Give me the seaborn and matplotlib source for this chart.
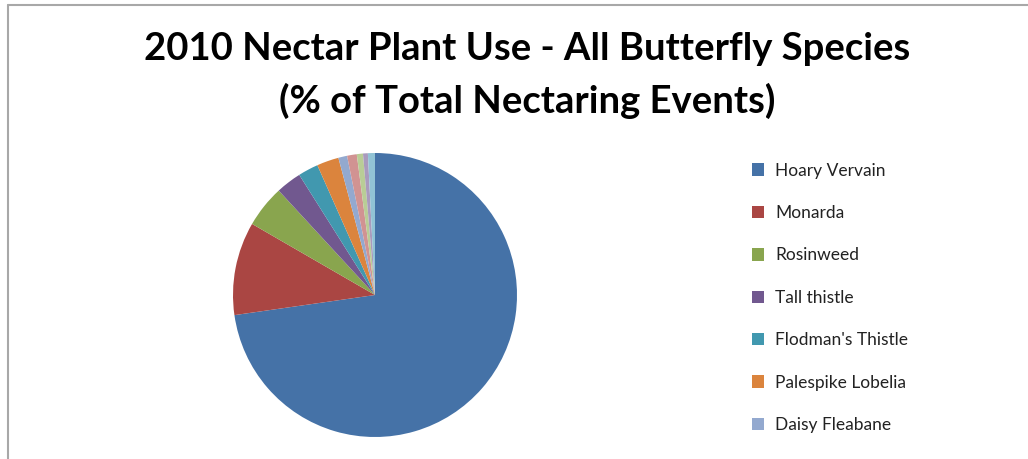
import matplotlib
matplotlib.use("Agg")
import matplotlib.pyplot as plt
import seaborn as sns
from matplotlib.lines import Line2D

# nectar plants, share of total nectaring events (%)
plants = ["Hoary Vervain", "Monarda", "Rosinweed", "Tall thistle",
          "Flodman's Thistle", "Palespike Lobelia", "Daisy Fleabane",
          "Plant 8", "Plant 9", "Plant 10", "Plant 11"]
share = [72.7, 10.6, 4.8, 2.9, 2.3, 2.5, 1.0, 1.1, 0.7, 0.55, 0.8]
legend_count = 7

colors = ["#4572A7", "#AA4643", "#89A54E", "#71588F", "#4198AF", "#DB843D",
          "#93A9CF", "#D19392", "#B9CD96", "#A99BBD", "#91C3D5"]

sns.set_theme(style="white")
plt.rcParams['font.family'] = ['Lato', 'DejaVu Sans']

fig = plt.figure(figsize=(10.28, 4.59), dpi=100)
fig.patch.set_facecolor("white")

# pie area (square in pixels)
ax = fig.add_axes([233 / 1028, 22 / 459, 284 / 1028, 284 / 459])
wedges, _ = ax.pie(share, colors=sns.color_palette(colors), startangle=90,
                   counterclock=False, radius=1,
                   wedgeprops=dict(linewidth=0))
ax.set_xlim(-1, 1)
ax.set_ylim(-1, 1)
ax.axis("off")

fig.text(527 / 1028, 1 - 49 / 459, "2010 Nectar Plant Use - All Butterfly Species",
         ha="center", va="center", fontsize=27.5, fontweight="bold", color="black")
fig.text(527 / 1028, 1 - 101 / 459, "(% of Total Nectaring Events)",
         ha="center", va="center", fontsize=27.5, fontweight="bold", color="black")

leg = fig.legend(wedges[:legend_count], plants[:legend_count],
                 loc="upper left", bbox_to_anchor=(736 / 1028, 1 - 147 / 459),
                 frameon=False, fontsize=12.5, labelspacing=1.52,
                 handlelength=0.72, handleheight=0.72, handletextpad=0.62)
for t in leg.get_texts():
    t.set_color("#222222")

# chart frame (top and left edges visible in the crop)
fig.add_artist(Line2D([8 / 1028, 1], [1 - 5 / 459, 1 - 5 / 459],
                      transform=fig.transFigure, color="#a8a8a8", lw=1.5))
fig.add_artist(Line2D([8 / 1028, 8 / 1028], [0, 1 - 5 / 459],
                      transform=fig.transFigure, color="#a8a8a8", lw=1.5))

fig.savefig("out.png", dpi=100)
